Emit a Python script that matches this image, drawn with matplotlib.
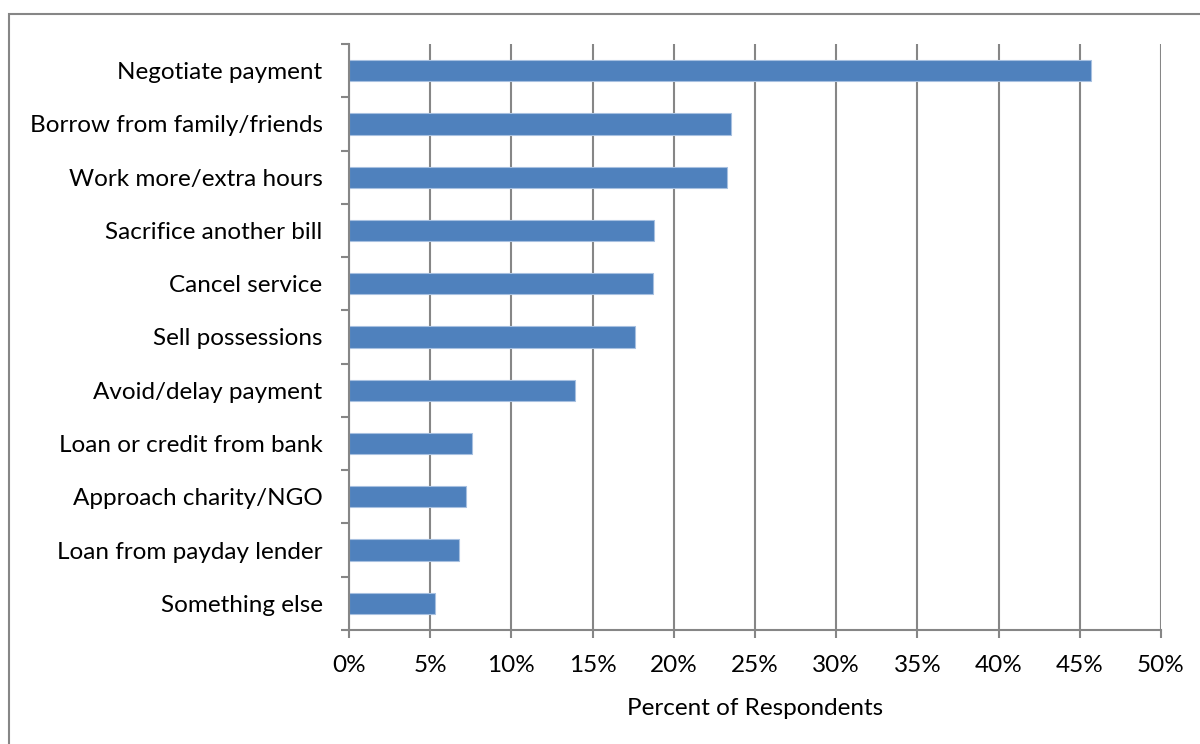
import matplotlib.pyplot as plt
from matplotlib.patches import Rectangle
from matplotlib.ticker import MultipleLocator, FuncFormatter

plt.rcParams['font.family'] = ['Lato', 'DejaVu Sans']

# responses, top to bottom
actions = [
    "Negotiate payment",
    "Borrow from family/friends",
    "Work more/extra hours",
    "Sacrifice another bill",
    "Cancel service",
    "Sell possessions",
    "Avoid/delay payment",
    "Loan or credit from bank",
    "Approach charity/NGO",
    "Loan from payday lender",
    "Something else",
]
share = [45.7, 23.5, 23.3, 18.8, 18.7, 17.6, 13.9, 7.6, 7.2, 6.8, 5.3]

fig = plt.figure(figsize=(12, 7.44), dpi=100)
ax = fig.add_axes([0.2908, 0.1532, 0.6767, 0.7877])

pos = list(range(len(actions)))[::-1]
ax.barh(pos, share, height=0.4, color="#4f81bd", edgecolor="#a7c0e0",
        linewidth=0.8, zorder=3)

ax.set_xlim(0, 50)
ax.set_ylim(-0.5, len(actions) - 0.5)
ax.xaxis.set_major_locator(MultipleLocator(5))
ax.xaxis.set_major_formatter(FuncFormatter(lambda v, p: f"{v:.0f}%"))
ax.set_yticks(pos)
ax.set_yticklabels(actions)
ax.set_yticks([p - 0.5 for p in range(len(actions) + 1)], minor=True)

grid_col = "#868686"
ax.grid(axis="x", color=grid_col, linewidth=1.5, zorder=0)
for s in ["top", "right"]:
    ax.spines[s].set_visible(False)
for s in ["left", "bottom"]:
    ax.spines[s].set_color(grid_col)
    ax.spines[s].set_linewidth(1.5)
    ax.spines[s].set_zorder(4)

ax.tick_params(axis="y", which="major", length=0, pad=19, labelsize=17.5)
ax.tick_params(axis="y", which="minor", length=6, width=1.5, color=grid_col)
ax.tick_params(axis="x", length=6, width=1.5, color=grid_col, pad=12,
               labelsize=17.5)
ax.set_xlabel("Percent of Respondents", fontsize=17.5, labelpad=16)

# chart frame
fig.patches.append(Rectangle((9 / 1200, -0.1), 1.2, (744 - 14) / 744 + 0.1,
                             transform=fig.transFigure, fill=False,
                             edgecolor="#868686", linewidth=1.5))

fig.savefig("out.png", dpi=100)
